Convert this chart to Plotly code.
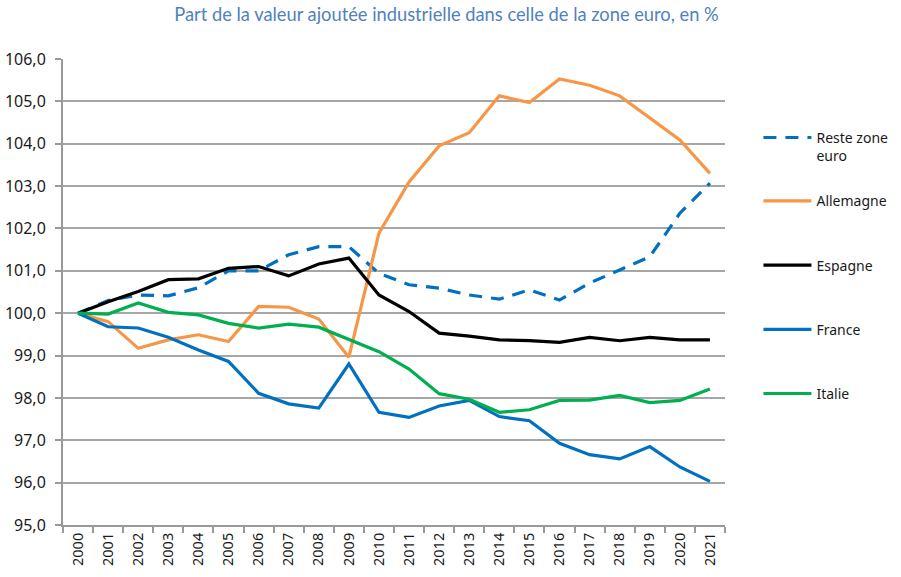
import plotly.graph_objects as go

years = [str(y) for y in range(2000, 2022)]

reste = [100.0, 100.30, 100.43, 100.41, 100.60, 101.00, 101.00, 101.38, 101.57, 101.57, 100.94,
         100.67, 100.59, 100.43, 100.33, 100.55, 100.31, 100.71, 101.02, 101.33, 102.36, 103.07]
allemagne = [100.0, 99.80, 99.17, 99.37, 99.49, 99.33, 100.16, 100.14, 99.86, 98.96, 101.89,
             103.10, 103.95, 104.26, 105.13, 104.97, 105.53, 105.38, 105.13, 104.60, 104.09, 103.30]
espagne = [100.0, 100.27, 100.51, 100.79, 100.81, 101.06, 101.10, 100.88, 101.16, 101.30, 100.43,
           100.04, 99.53, 99.46, 99.37, 99.35, 99.31, 99.43, 99.35, 99.43, 99.37, 99.37]
france = [100.0, 99.68, 99.65, 99.43, 99.13, 98.86, 98.11, 97.86, 97.76, 98.80, 97.66,
          97.54, 97.81, 97.94, 97.56, 97.46, 96.93, 96.66, 96.56, 96.85, 96.37, 96.03]
italie = [100.0, 99.98, 100.24, 100.02, 99.96, 99.76, 99.65, 99.74, 99.67, 99.37, 99.09,
          98.68, 98.10, 97.97, 97.66, 97.72, 97.94, 97.95, 98.06, 97.89, 97.94, 98.21]

y_ticks = [95, 96, 97, 98, 99, 100, 101, 102, 103, 104, 105, 106]
title = "Part de la valeur ajoutée industrielle dans celle de la zone euro, en %"

series = [
    ("Reste zone<br>euro", reste, "#0070C0", "13px,9px", "legend"),
    ("Allemagne", allemagne, "#F79646", "solid", "legend2"),
    ("Espagne", espagne, "#000000", "solid", "legend2"),
    ("France", france, "#0070C0", "solid", "legend2"),
    ("Italie", italie, "#00B050", "solid", "legend2"),
]

fig = go.Figure()
for i, (name, vals, color, dash, leg) in enumerate(series):
    fig.add_trace(go.Scatter(
        x=years, y=vals, name=name, mode="lines",
        line=dict(color=color, width=3.2, dash=dash),
        legendgroup=f"g{i}", legend=leg,
    ))

legend_font = dict(size=14, family="Noto Sans, sans-serif", color="#1a1a1a")
fig.update_layout(
    width=901, height=577,
    margin=dict(l=63, r=176, t=59, b=52, autoexpand=False),
    paper_bgcolor="white", plot_bgcolor="white",
    separators=", ",
    font=dict(family="Noto Sans, Liberation Sans, sans-serif", color="#1a1a1a", size=14),
    title=dict(text=title, x=0.4956, xanchor="center", y=0.985, yanchor="top",
               font=dict(family="Lato, Open Sans, sans-serif", size=18.3, color="#4F81BD")),
    legend=dict(x=1.0505, xanchor="left", y=0.865, yanchor="top", itemwidth=48,
                valign="top", font=legend_font, bgcolor="rgba(0,0,0,0)"),
    legend2=dict(x=1.0505, xanchor="left", y=0.729, yanchor="top", itemwidth=48,
                 tracegroupgap=43, valign="top", font=legend_font,
                 bgcolor="rgba(0,0,0,0)"),
    showlegend=True,
)

fig.update_xaxes(
    type="category", range=[-0.5, 21.5], tickangle=-90, automargin=False,
    showgrid=False, showline=True, linecolor="#999999", linewidth=2,
    ticks="outside", tickson="boundaries", ticklen=6, tickcolor="#999999", tickwidth=1.5,
    tickfont=dict(size=14.5), zeroline=False,
)
fig.update_yaxes(
    range=[95, 106], tickvals=y_ticks, tickformat=".1f", automargin=False,
    showgrid=True, gridcolor="#a6a6a6", gridwidth=1.5,
    showline=True, linecolor="#999999", linewidth=2,
    ticks="outside", ticklen=6, tickcolor="#999999", tickwidth=1.5,
    ticklabelstandoff=6,
    tickfont=dict(size=16), zeroline=False,
)

fig.write_html("out.html", config={"displayModeBar": False},
               post_script="document.body.style.margin='0';")
